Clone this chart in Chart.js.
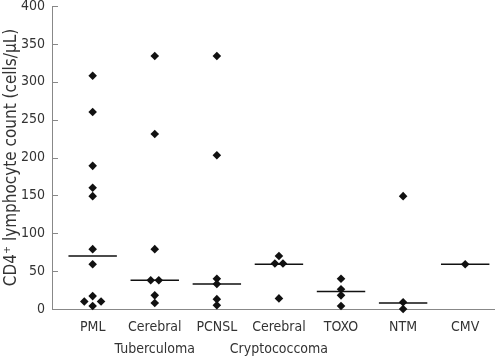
<!DOCTYPE html>
<html>
<head>
<meta charset="utf-8">
<script src="https://cdn.jsdelivr.net/npm/chart.js@4/dist/chart.umd.min.js"></script>
<style>
html,body{margin:0;padding:0;background:#fff;}
#wrap{width:495px;height:356px;position:relative;}
</style>
</head>
<body>
<div id="wrap"><canvas id="c" width="495" height="356"></canvas></div>
<script>
// ---- data ----
const categories = [["PML"], ["Cerebral", "Tuberculoma"], ["PCNSL"], ["Cerebral", "Cryptococcoma"], ["TOXO"], ["NTM"], ["CMV"]];
const pml = [308, 260, 189, 160, 149, 79, 59, 17, 10, 10, 4];
const tuberculoma = [334, 231, 79, 38, 38, 18, 8];
const pcnsl = [334, 203, 40, 33, 13, 5];
const cryptococcoma = [70, 60, 60, 14];
const toxo = [40, 26, 18, 4];
const ntm = [149, 9, 0];
const cmv = [59];
const medians = [70, 38, 33, 59, 23, 8, 59];
const yTicks = [0, 50, 100, 150, 200, 250, 300, 350, 400];

const groups = [pml, tuberculoma, pcnsl, cryptococcoma, toxo, ntm, cmv];

// build scatter points: category index as x, duplicates spread side by side
const points = [];
groups.forEach((vals, gi) => {
  const cx = gi + 1;
  const seen = {};
  vals.forEach(v => { seen[v] = (seen[v] || 0) + 1; });
  const used = {};
  vals.forEach(v => {
    const n = seen[v];
    let x = cx;
    if (n > 1) {
      const near = vals.some(o => o !== v && Math.abs(o - v) <= 8);
      const step = near ? 0.27 : 0.13;
      const k = used[v] || 0;
      used[v] = k + 1;
      x = cx + (k - (n - 1) / 2) * step;
    }
    points.push({ x: x, y: v });
  });
});

const medianPts = [];
medians.forEach((m, i) => {
  const cx = i + 1;
  medianPts.push({ x: cx - 0.39, y: m }, { x: cx + 0.39, y: m }, { x: cx + 0.39, y: null });
});

const FONT = "'DejaVu Sans Condensed', 'Liberation Sans', sans-serif";

const innerTicks = {
  id: 'innerTicks',
  afterDraw(chart) {
    const y = chart.scales.y, ctx = chart.ctx, left = chart.chartArea.left;
    ctx.save();
    ctx.strokeStyle = '#888';
    ctx.lineWidth = 1;
    yTicks.forEach(t => {
      const py = Math.round(y.getPixelForValue(t)) + 0.5;
      ctx.beginPath();
      ctx.moveTo(left, py);
      ctx.lineTo(left + 6, py);
      ctx.stroke();
    });
    ctx.restore();
  }
};

new Chart(document.getElementById('c'), {
  type: 'scatter',
  data: {
    datasets: [
      {
        type: 'line',
        data: medianPts,
        borderColor: '#111',
        borderWidth: 1.5,
        pointRadius: 0,
        spanGaps: false,
        fill: false,
        clip: false
      },
      {
        data: points,
        pointStyle: 'rectRot',
        pointRadius: 4.3,
        pointBackgroundColor: '#111',
        pointBorderColor: '#111',
        pointBorderWidth: 0,
        clip: false
      }
    ]
  },
  options: {
    responsive: false,
    animation: false,
    events: [],
    layout: { autoPadding: false, padding: { top: 0, right: 0, left: 0, bottom: 0 } },
    plugins: { legend: { display: false }, tooltip: { enabled: false } },
    scales: {
      x: {
        type: 'linear',
        min: 0.345,
        max: 7.48,
        afterBuildTicks(scale) { scale.ticks = categories.map((c, i) => ({ value: i + 1 })); },
        afterFit(scale) { scale.height = 47; scale.paddingLeft = 0; scale.paddingRight = 0; },
        ticks: {
          autoSkip: false,
          maxRotation: 0,
          padding: 7.5,
          color: '#333',
          font: { family: FONT, size: 14, lineHeight: 22 / 14 },
          callback: (v) => categories[v - 1] || ''
        },
        grid: { display: false, drawTicks: false },
        border: { display: true, color: '#888', width: 1 }
      },
      y: {
        min: 0,
        max: 400,
        afterBuildTicks(scale) { scale.ticks = yTicks.map(v => ({ value: v })); },
        afterFit(scale) { scale.width = 52; scale.paddingTop = 6; },
        ticks: {
          padding: 7,
          color: '#333',
          font: { family: FONT, size: 14, lineHeight: 12 / 14 }
        },
        grid: { display: false, drawTicks: false },
        border: { display: true, color: '#888', width: 1 },
        title: {
          display: true,
          text: 'CD4⁺ lymphocyte count (cells/μL)',
          color: '#333',
          font: { family: FONT, size: 17 },
          padding: { top: 1, bottom: 0 }
        }
      }
    }
  },
  plugins: [innerTicks]
});
</script>
</body>
</html>
